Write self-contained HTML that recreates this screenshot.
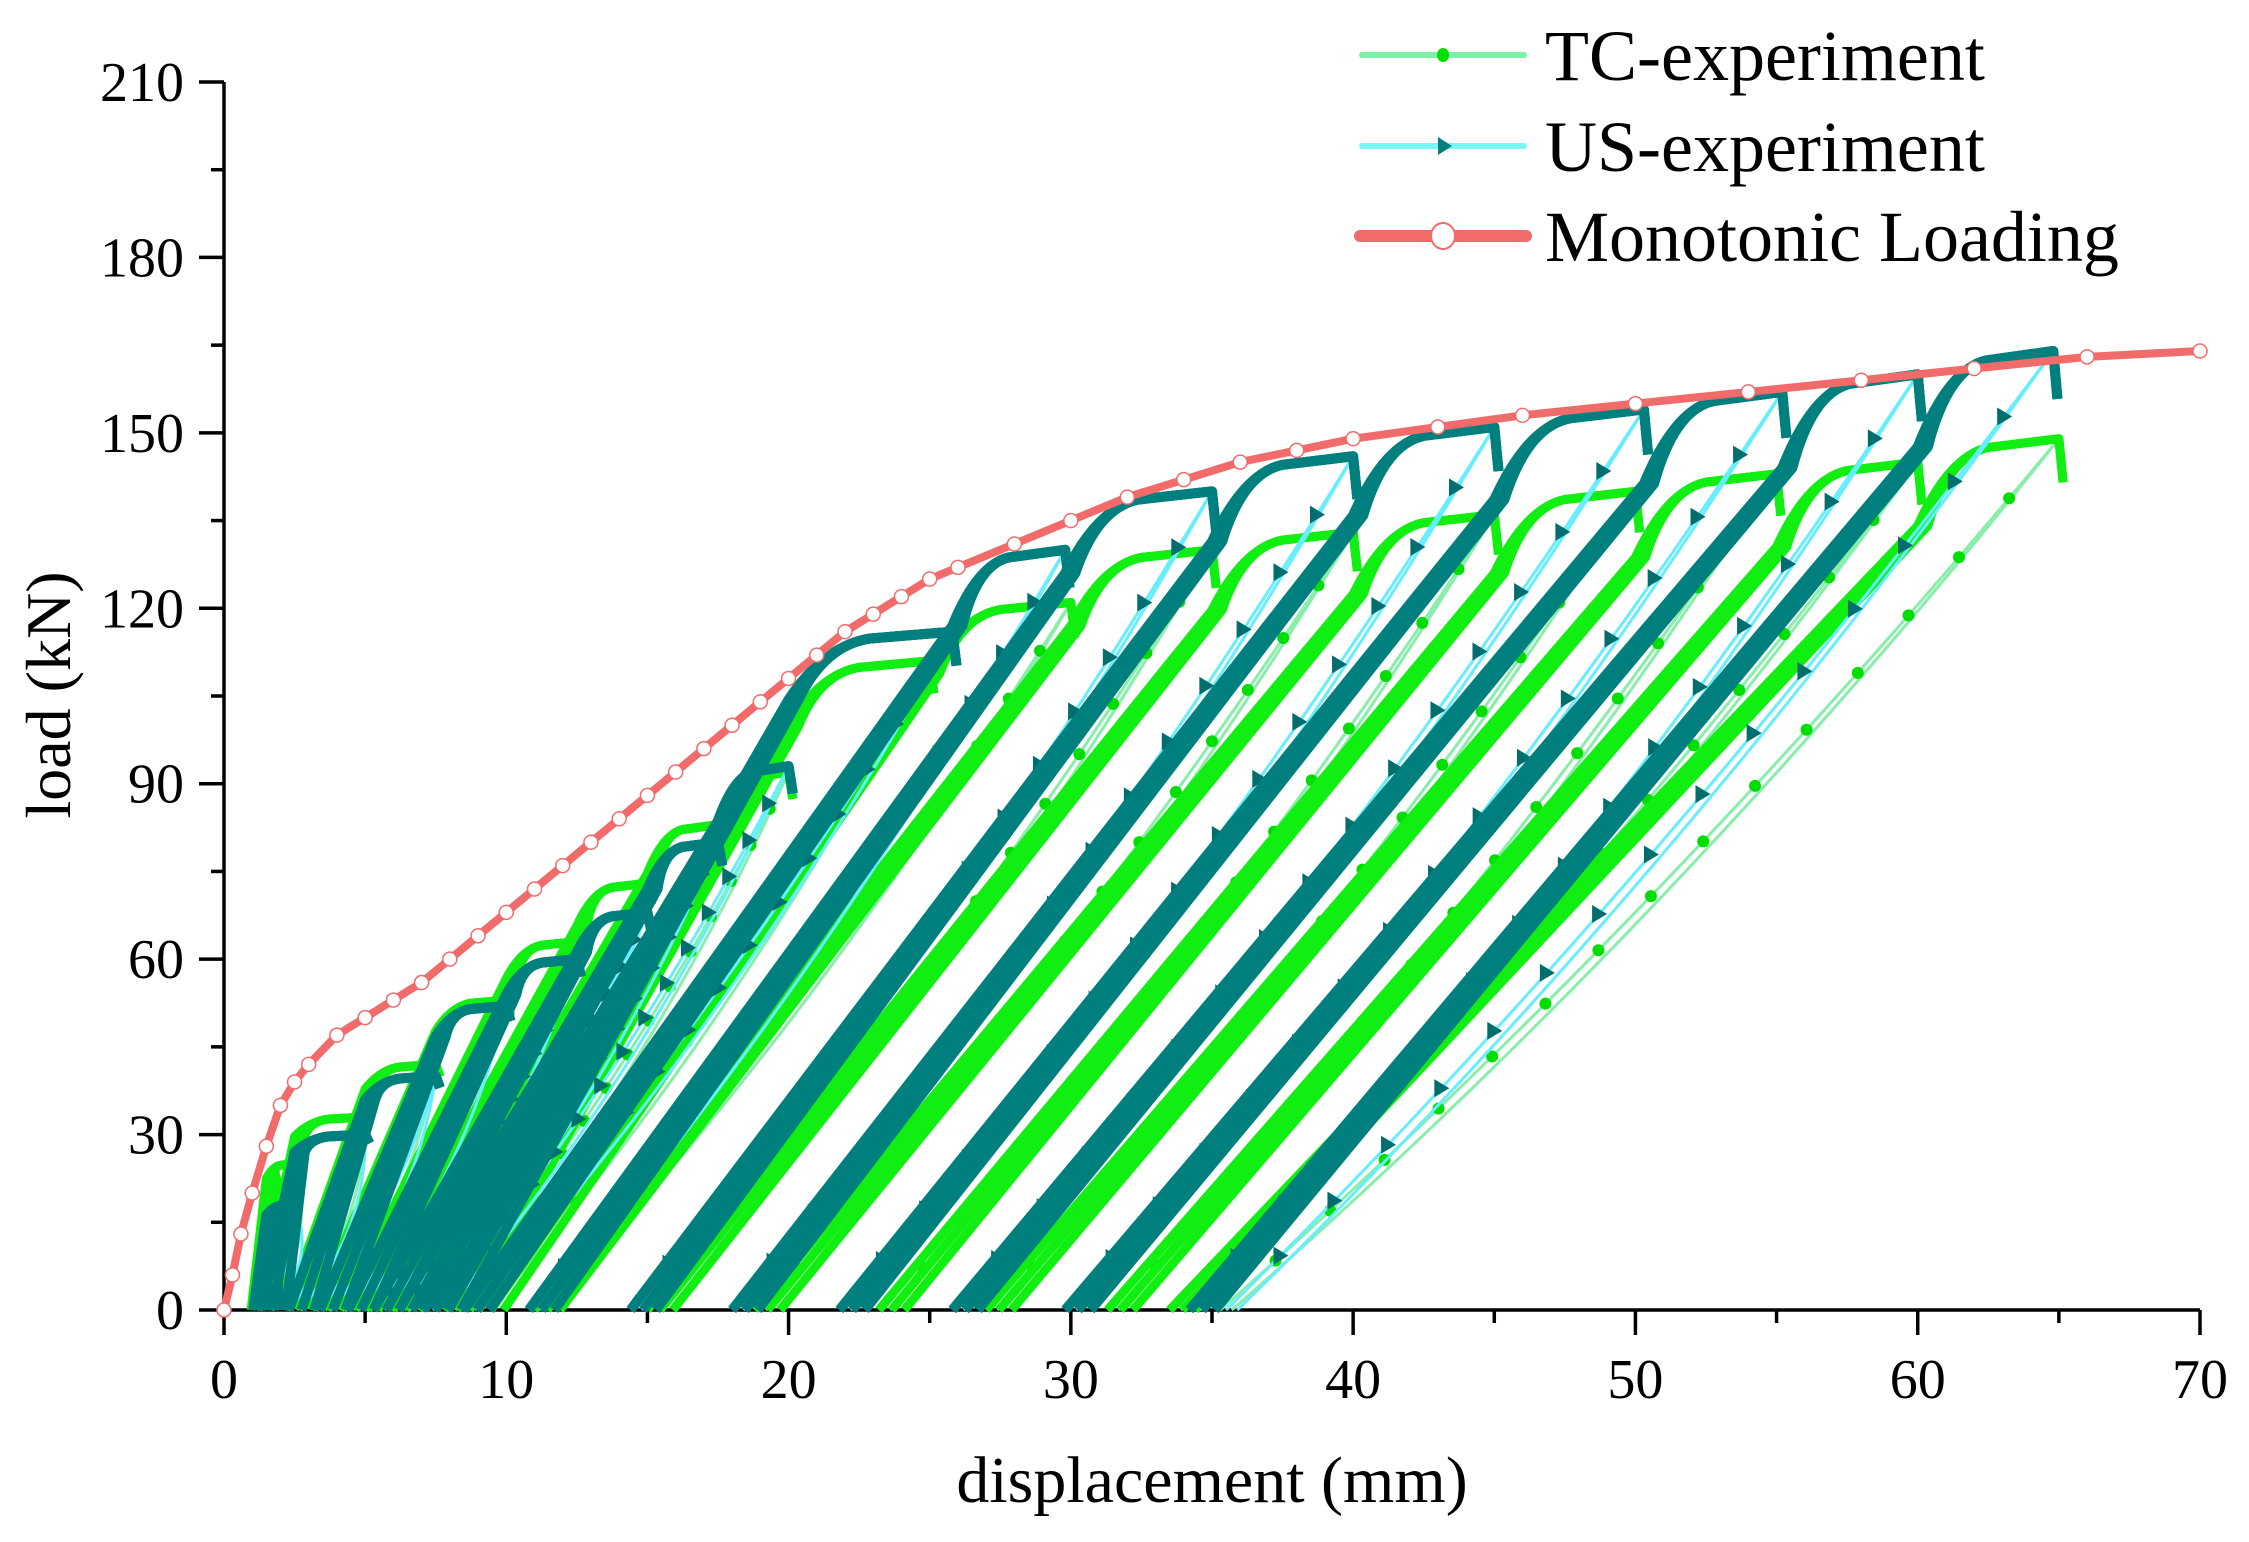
<!DOCTYPE html>
<html><head><meta charset="utf-8">
<style>
html,body{margin:0;padding:0;background:#fff;}
svg{display:block;font-family:"Liberation Serif",serif;}
</style></head>
<body>
<svg id="chart" width="2249" height="1542" viewBox="0 0 2249 1542">
<g id="axes"></g>
<g id="plot"></g>
<g id="legend">
  <g>
    <line x1="1362" y1="55" x2="1524" y2="55" stroke="#7ef0a8" stroke-width="6" stroke-linecap="round"/>
    <ellipse cx="1443" cy="55" rx="6" ry="7" fill="#00e000"/>
    <text x="1545" y="80" font-size="72" fill="#000">TC-experiment</text>
  </g>
  <g>
    <line x1="1362" y1="146" x2="1524" y2="146" stroke="#77f7f7" stroke-width="6" stroke-linecap="round"/>
    <polygon points="1438,137 1452,146 1438,155" fill="#007f7f"/>
    <text x="1545" y="171" font-size="72" fill="#000">US-experiment</text>
  </g>
  <g>
    <line x1="1360" y1="236" x2="1526" y2="236" stroke="#f26b6b" stroke-width="12" stroke-linecap="round"/>
    <ellipse cx="1443" cy="236" rx="12" ry="13" fill="#fff" stroke="#f26b6b" stroke-width="2"/>
    <text x="1545" y="261" font-size="72" fill="#000">Monotonic Loading</text>
  </g>
</g>
</svg>
<script>
// ---- data ----
const xTicks = [0,10,20,30,40,50,60,70];
const yTicks = [0,30,60,90,120,150,180,210];
const monoDisp = [0,0.3,0.6,1,1.5,2,2.5,3,4,5,6,7,8,9,10,11,12,13,14,15,16,17,18,19,20,21,22,23,24,25,26,28,30,32,34,36,38,40,43,46,50,54,58,62,66,70];
const monoLoad = [0,6,13,20,28,35,39,42,47,50,53,56,60,64,68,72,76,80,84,88,92,96,100,104,108,112,116,119,122,125,127,131,135,139,142,145,147,149,151,153,155,157,159,161,163,164];
const usPeakDisp = [2.5,5,7.5,10,12.5,15,17.5,20,25.8,29.8,35,40,45,50.3,55.2,60,64.8];
const usPeakLoad = [18,30,40,52,60,68,80,93,116,130,140,146,151,154,157,160,164];
const usResDisp = [1.3,2.3,3.4,4.4,5.3,6.2,7.0,7.5,8.5,10.8,14.4,18.0,21.8,25.8,29.8,34.2,35.5];
const tcPeakDisp = [2.5,5,7.5,10,12.5,15,17.5,20,25,30,35,40,45,50,55,60,65];
const tcPeakLoad = [25,33,42,53,63,73,83,92,111,121,130,133,136,140,143,145,149];
const tcResDisp = [1.2,2.2,3.2,4.2,5.0,6.0,7.0,7.8,9.0,11.0,15.0,18.8,23.2,27.0,31.3,33.5,35.3];

// ---- scales ----
const X0=224, X1=2200, Y0=1310, Y1=82;
const X = d => X0 + d*(X1-X0)/70;
const Y = l => Y0 - l*(Y0-Y1)/210;
const NS="http://www.w3.org/2000/svg";
function mk(tag, attrs, parent){const e=document.createElementNS(NS,tag);for(const k in attrs)e.setAttribute(k,attrs[k]);parent.appendChild(e);return e;}
const axes=document.getElementById('axes'), plot=document.getElementById('plot');

// axes
let a=mk('line',{x1:X0,y1:Y0,x2:X1,y2:Y0,stroke:'#000','stroke-width':3.5},axes);


a=mk('line',{x1:X0,y1:Y0,x2:X0,y2:Y1,stroke:'#000','stroke-width':3.5},axes);


for(let v=0; v<=70; v+=5){
  const major = v%10===0;
  const t=mk('line',{x1:X(v),y1:Y0,x2:X(v),y2:Y0+(major?25:13),stroke:'#000','stroke-width':3.5},axes);
  
  
}
xTicks.forEach(v=>{
  const t=mk('text',{x:X(v),y:1398,'font-size':56,'text-anchor':'middle'},axes);t.textContent=v;
  
  
});
for(let v=0; v<=210; v+=15){
  const major = v%30===0;
  const t=mk('line',{x1:X0,y1:Y(v),x2:X0-(major?25:13),y2:Y(v),stroke:'#000','stroke-width':3.5},axes);
  
  
}
yTicks.forEach(v=>{
  const t=mk('text',{x:184,y:Y(v)+19,'font-size':56,'text-anchor':'end'},axes);t.textContent=v;
  
  
});
let tt=mk('text',{x:1212,y:1502,'font-size':66,'text-anchor':'middle'},axes);tt.textContent='displacement (mm)';


tt=mk('text',{x:0,y:0,'font-size':64,'text-anchor':'middle',transform:'translate(70,695) rotate(-90)'},axes);tt.textContent='load (kN)';



// cyclic series
function drawSeries(pd,pl,rd,thick,thickW,thin,marker,name){
  const g=mk('g',{},plot);
  
  
  for(let i=0;i<pd.length;i++){
    const start = i===0 ? rd[0]*0.8 : rd[i-1];
    const prevPk = i===0 ? pd[0]*0.6 : pd[i-1];
    const span = pd[i]-prevPk;
    const kx = prevPk, ky = pl[i]*0.9;
    const cxk = prevPk + span*0.22, cyk = pl[i]*0.98;
    const mx = prevPk + span*0.5, my = pl[i]*0.99;
    const cx=(pd[i]+rd[i])/2+0.8, cy=pl[i]*0.45;
    for(let r=0;r<2;r++){
      const u=mk('path',{d:`M${X(pd[i])},${Y(pl[i])} Q${X(cx+r*0.6)},${Y(cy)} ${X(rd[i]+r*0.4)},${Y(0)}`,fill:'none',stroke:thin,'stroke-width':3},g);
      
      
    }
    if(i>=4){
      for(let k=1;k<16;k++){
        const t=k/16;
        const px=(1-t)*(1-t)*pd[i]+2*t*(1-t)*cx+t*t*rd[i];
        const py=(1-t)*(1-t)*pl[i]+2*t*(1-t)*cy;
        let m;
        if(marker==='dot') m=mk('circle',{cx:X(px),cy:Y(py),r:6,fill:'#00dd00'},g);
        else m=mk('polygon',{points:`${X(px)-7},${Y(py)-9} ${X(px)+8},${Y(py)} ${X(px)-7},${Y(py)+9}`,fill:'#006e6e'},g);
        
        
      }
    }
    for(let r=0;r<3;r++){
      const o=r*0.45;
      const p=mk('path',{d:`M${X(start+o)},${Y(0)} L${X(kx+o*0.4)},${Y(ky)} Q${X(cxk)},${Y(cyk)} ${X(mx)},${Y(my)} L${X(pd[i])},${Y(pl[i])} L${X(pd[i]+0.15)},${Y(pl[i]*0.95)}`,fill:'none',stroke:thick,'stroke-width':thickW,'stroke-linejoin':'round'},g);
      
      
    }
  }
}
drawSeries(tcPeakDisp,tcPeakLoad,tcResDisp,'#11ee11',9,'#88eeaa','dot','tc-experiment-series');
drawSeries(usPeakDisp,usPeakLoad,usResDisp,'#007f7f',10,'#66eeff','tri','us-experiment-series');

const mg=mk('g',{},plot);


const ml=mk('polyline',{points:monoDisp.map((d,i)=>X(d)+','+Y(monoLoad[i])).join(' '),fill:'none',stroke:'#f26b6b','stroke-width':8},mg);


monoDisp.forEach((d,i)=>{
  const c=mk('circle',{cx:X(d),cy:Y(monoLoad[i]),r:7,fill:'#fff',stroke:'#f26b6b','stroke-width':1.5},mg);
  
  
});
</script>
</body></html>
